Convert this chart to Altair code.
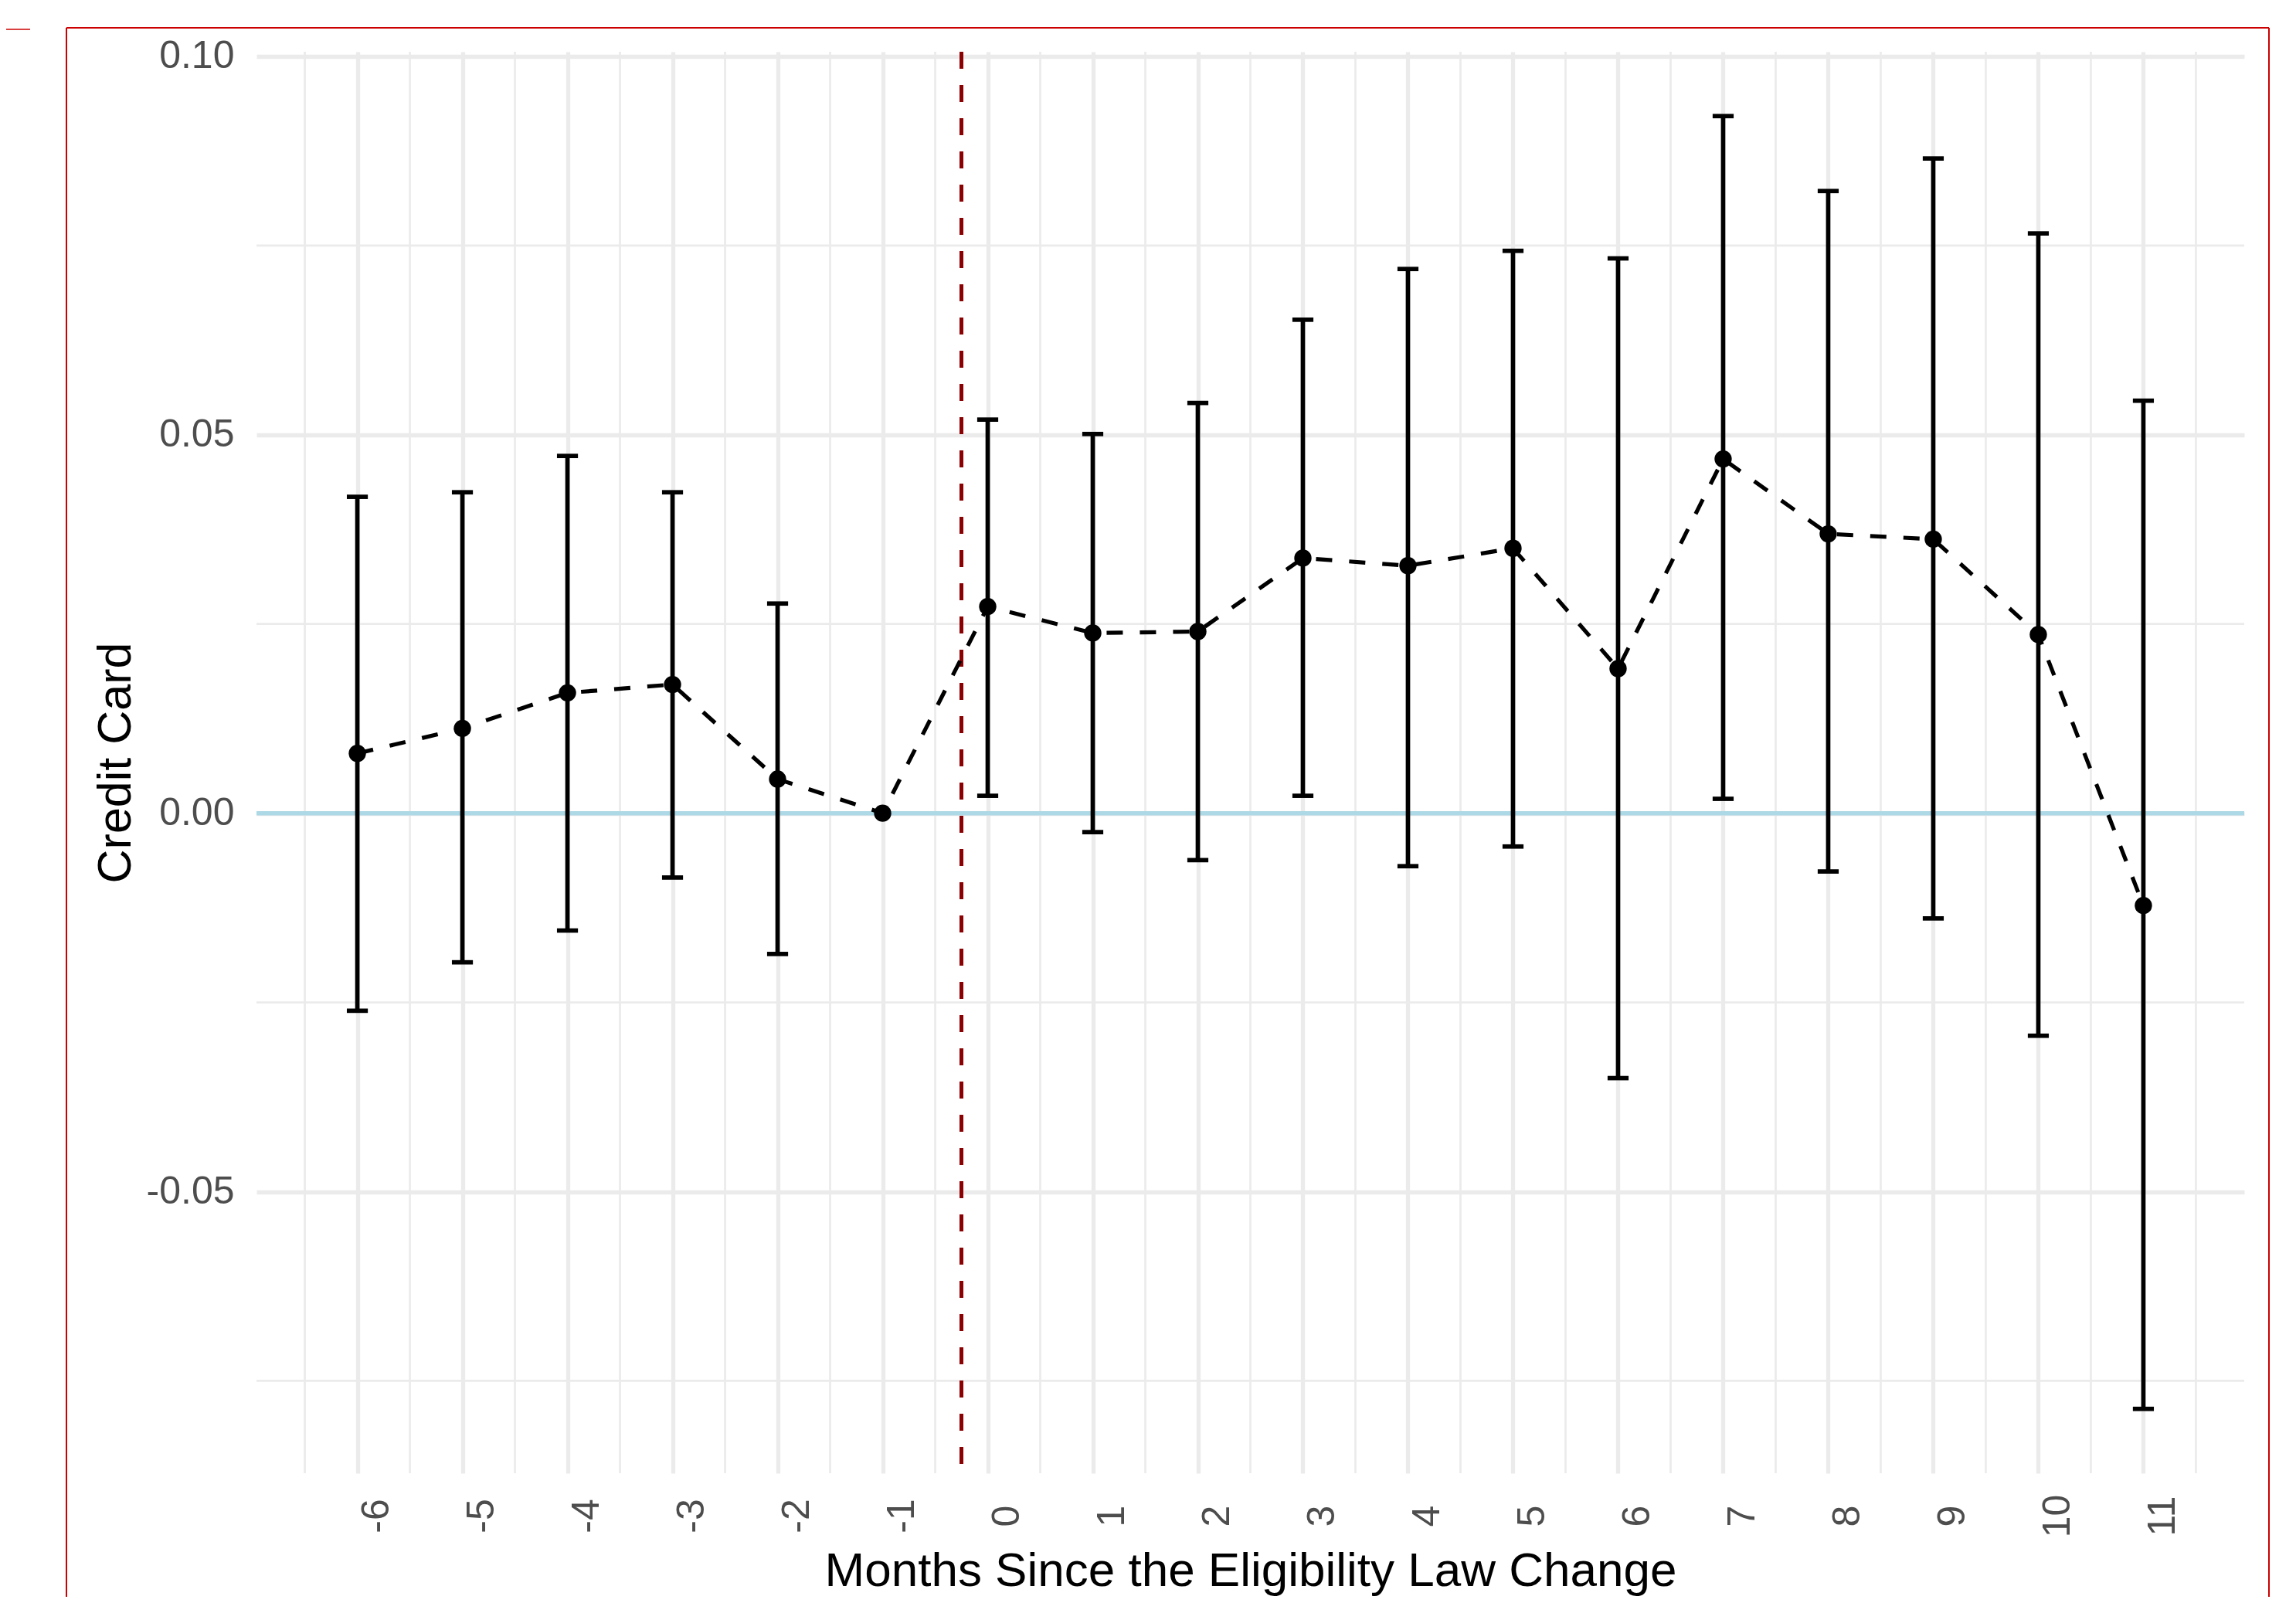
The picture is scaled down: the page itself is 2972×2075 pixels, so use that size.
import altair as alt
import pandas as pd

# ---- data ----
months = list(range(-6, 12))
estimate = [0.0079, 0.0112, 0.0159, 0.0170, 0.0045, 0.0000, 0.0273, 0.0238, 0.0240,
            0.0337, 0.0327, 0.0350, 0.0191, 0.0468, 0.0369, 0.0362, 0.0236, -0.0122]
upper = [0.0418, 0.0424, 0.0472, 0.0424, 0.0277, None, 0.0520, 0.0501, 0.0542,
         0.0652, 0.0719, 0.0743, 0.0733, 0.0921, 0.0822, 0.0865, 0.0766, 0.0545]
lower = [-0.0261, -0.0197, -0.0155, -0.0085, -0.0186, None, 0.0023, -0.0025, -0.0062,
         0.0023, -0.0070, -0.0044, -0.0350, 0.0019, -0.0077, -0.0139, -0.0294, -0.0787]
cap_half_width = 0.1
event_line = [-0.25]
zero_line = [0.0]
x_ticks = months
x_minor = [m + 0.5 for m in range(-7, 12)]
y_ticks = [-0.05, 0.0, 0.05, 0.10]
y_minor = [-0.075, -0.025, 0.025, 0.075]
x_title = "Months Since the Eligibility Law Change"
y_title = "Credit Card"

df = pd.DataFrame({"month": months, "est": estimate, "hi": upper, "lo": lower})
df_err = df.dropna()

FONT = "Liberation Sans"
GRID = "#EBEBEB"

xscale = alt.Scale(domain=[-6.96, 11.96], nice=False, zero=False)
yscale = alt.Scale(domain=[-0.0872, 0.1006], nice=False, zero=False)

x_axis = alt.Axis(values=x_ticks, grid=True, gridColor=GRID, gridWidth=5.3,
                  domain=False, ticks=False, tickSize=0,
                  labelAngle=270, labelAlign="center", labelBaseline="top",
                  labelPadding=55, labelFontSize=50, labelColor="#4D4D4D", labelFont=FONT,
                  labelExpr="datum.value < 0 ? '-' + format(-datum.value, 'd') : format(datum.value, 'd')",
                  labelOverlap=False, labelFlush=False, labelBound=False,
                  titleFontSize=62, titleFont=FONT, titleColor="black",
                  titleFontWeight="normal", titlePadding=14)
y_axis = alt.Axis(values=y_ticks, grid=True, gridColor=GRID, gridWidth=5.3,
                  domain=False, ticks=False, tickSize=0,
                  labelPadding=29, labelFontSize=50, labelColor="#4D4D4D", labelFont=FONT,
                  labelExpr="datum.value < 0 ? '-' + format(-datum.value, '.2f') : format(datum.value, '.2f')",
                  labelOverlap=False, labelFlush=False, labelBound=False,
                  titleFontSize=61, titleFont=FONT, titleColor="black",
                  titleFontWeight="normal", titlePadding=8)


def X(field):
    return alt.X(field, type="quantitative", scale=xscale, axis=x_axis, title=x_title)


def Y(field):
    return alt.Y(field, type="quantitative", scale=yscale, axis=y_axis, title=y_title)


minor_x = alt.Chart(pd.DataFrame({"v": x_minor})).mark_rule(
    color=GRID, strokeWidth=2.7).encode(x=X("v"))
minor_y = alt.Chart(pd.DataFrame({"v": y_minor})).mark_rule(
    color=GRID, strokeWidth=2.7).encode(y=Y("v"))

hline = alt.Chart(pd.DataFrame({"v": zero_line})).mark_rule(
    color="#ADD8E6", strokeWidth=5.5).encode(y=Y("v"))

vline = alt.Chart(pd.DataFrame({"v": event_line})).mark_rule(
    color="#8B0000", strokeWidth=5, strokeDash=[22, 21]).encode(x=X("v"))

base_err = alt.Chart(df_err).transform_calculate(
    xl=f"datum.month - {cap_half_width}", xr=f"datum.month + {cap_half_width}")

err_v = base_err.mark_rule(color="black", strokeWidth=5.7).encode(
    x=X("month"), y=Y("lo"), y2="hi")
cap_hi = base_err.mark_rule(color="black", strokeWidth=5.7).encode(
    x=X("xl"), x2="xr", y=Y("hi"))
cap_lo = base_err.mark_rule(color="black", strokeWidth=5.7).encode(
    x=X("xl"), x2="xr", y=Y("lo"))

line = alt.Chart(df).mark_line(color="black", strokeWidth=5.2, strokeDash=[21, 22]).encode(
    x=X("month"), y=Y("est"))
points = alt.Chart(df).mark_circle(color="black", size=500, opacity=1).encode(
    x=X("month"), y=Y("est"))

# red frame seen around the reference image (decoration)
frame_df = pd.DataFrame({"k": [0]})
frame_color = "#CC0000"
frame_left = alt.Chart(frame_df).mark_rule(color=frame_color, strokeWidth=2).encode(
    x=alt.value(-246), y=alt.value(-31), y2=alt.value(2100))
frame_right = alt.Chart(frame_df).mark_rule(color=frame_color, strokeWidth=2).encode(
    x=alt.value(2605), y=alt.value(-31), y2=alt.value(2100))
frame_top = alt.Chart(frame_df).mark_rule(color=frame_color, strokeWidth=2).encode(
    x=alt.value(-246), x2=alt.value(2605), y=alt.value(-31))
frame_stub = alt.Chart(frame_df).mark_rule(color=frame_color, strokeWidth=1.5).encode(
    x=alt.value(-330), x2=alt.value(-293), y=alt.value(-29))

chart = alt.layer(
    minor_x, minor_y, hline, vline, err_v, cap_hi, cap_lo, line, points,
    frame_left, frame_right, frame_top, frame_stub,
).properties(
    width=2573, height=1840,
    autosize=alt.AutoSizeParams(type="none"),
    padding={"left": 324, "top": 59, "right": 59, "bottom": 160},
    background="white",
).configure(
    font=FONT,
    view=alt.ViewConfig(stroke="transparent", strokeWidth=0),
)

chart.save("out.html", embed_options={"renderer": "svg", "actions": False})
